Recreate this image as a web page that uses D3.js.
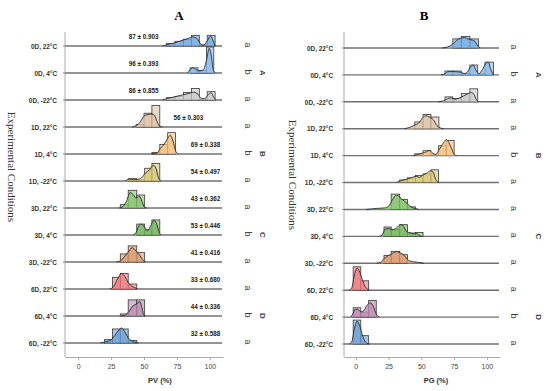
<!DOCTYPE html>
<html>
<head>
<meta charset="utf-8">
<script src="https://cdn.jsdelivr.net/npm/d3@7"></script>
<style>
  html, body { margin: 0; padding: 0; background: #fff; }
  svg { display: block; }
  .row-label { font-family: "Liberation Sans", Arial, sans-serif; font-size: 6.4px; font-weight: bold; fill: #333; }
  .annot { font-family: "Liberation Sans", Arial, sans-serif; font-size: 6.3px; font-weight: bold; fill: #222; }
  .tick text { font-family: "Liberation Sans", Arial, sans-serif; font-size: 7px; fill: #444; }
</style>
</head>
<body>
<div id="chart"></div>
<script>
const conditions = ['0D, 22°C', '0D, 4°C', '0D, -22°C', '1D, 22°C', '1D, 4°C', '1D, -22°C',
  '3D, 22°C', '3D, 4°C', '3D, -22°C', '6D, 22°C', '6D, 4°C', '6D, -22°C'];
const palette = ['#74abe2', '#8ab9e8', '#c9c9c9', '#dcc3a6', '#f5c27c', '#d8c774',
  '#85c46c', '#76b85e', '#d9996e', '#ef7b7e', '#b98bad', '#6a9fd6'];
const groups = ['A', 'B', 'C', 'D'];
const xTicks = [0, 25, 50, 75, 100];

// PV panel: histogram bins [from, to, height] and density points [x, height]
const pvHist = [
  [[67, 73.5, 0.09], [73.5, 80, 0.18], [80, 86, 0.26], [86, 92, 0.41], [92, 98, 0.04], [98, 104, 0.41]],
  [[85, 91, 0.2], [91, 97.5, 0.1], [97.5, 103, 1.0]],
  [[67, 73.5, 0.09], [73.5, 80, 0.14], [80, 86, 0.29], [86, 92, 0.44], [92, 98, 0.03], [98, 104, 0.32]],
  [[44, 50, 0.1], [50, 56, 0.53], [56, 62, 0.83]],
  [[56, 62, 0.06], [62, 68, 0.37], [68, 74, 0.82]],
  [[38, 44.5, 0.09], [44.5, 50.5, 0.04], [50.5, 56, 0.49], [56, 62, 0.67]],
  [[32, 38, 0.13], [38, 44.5, 0.68], [44.5, 50.5, 0.5]],
  [[44.5, 50.5, 0.42], [50.5, 56, 0.2], [56, 62, 0.58]],
  [[32, 38, 0.31], [38, 44.5, 0.62], [44.5, 50.5, 0.36]],
  [[26, 32, 0.45], [32, 38, 0.6], [38, 44.5, 0.19]],
  [[32, 38, 0.08], [38, 44.5, 0.62], [44.5, 50.5, 0.62]],
  [[20, 26, 0.13], [26, 32, 0.54], [32, 38, 0.54], [38, 44.5, 0.1]]
];
const pvDensity = [
  [[64, 0], [68, 0.06], [73, 0.12], [78, 0.2], [83, 0.28], [87, 0.35], [90, 0.3], [93, 0.08], [95, 0.02], [98, 0.2], [100.5, 0.38], [102.5, 0.2], [104, 0]],
  [[83, 0], [85, 0.12], [87, 0.2], [89.5, 0.13], [92, 0.08], [95, 0.12], [97.5, 0.5], [99.5, 0.95], [101, 0.7], [102.5, 0.15], [104, 0]],
  [[64, 0], [68, 0.06], [73, 0.12], [78, 0.18], [83, 0.24], [88, 0.3], [91, 0.22], [93.5, 0.06], [96, 0.05], [99, 0.22], [101, 0.28], [103, 0.1], [104.5, 0]],
  [[41, 0], [44, 0.05], [47, 0.18], [50, 0.42], [53, 0.48], [56, 0.5], [58, 0.45], [60, 0.2], [62, 0.02], [64, 0]],
  [[56, 0], [60, 0.04], [62.5, 0.22], [65, 0.35], [68, 0.6], [70, 0.72], [72, 0.5], [74, 0.12], [76, 0]],
  [[36, 0], [39, 0.07], [42, 0.05], [45, 0.06], [48, 0.12], [51, 0.3], [54, 0.42], [57, 0.6], [59, 0.5], [61, 0.12], [63, 0]],
  [[31, 0], [34, 0.06], [37, 0.3], [39.5, 0.6], [42, 0.5], [44, 0.38], [46.5, 0.45], [48.5, 0.25], [50.5, 0.02], [52, 0]],
  [[42, 0], [44, 0.1], [46, 0.35], [48, 0.42], [50.5, 0.3], [52.5, 0.16], [55, 0.35], [57.5, 0.56], [59.5, 0.45], [61.5, 0.1], [63, 0]],
  [[29, 0], [32, 0.04], [35, 0.2], [38, 0.38], [41, 0.55], [44, 0.42], [47, 0.24], [49.5, 0.05], [51, 0]],
  [[24, 0], [27, 0.1], [30, 0.4], [33, 0.6], [35.5, 0.48], [38, 0.25], [41, 0.1], [43, 0.05], [45, 0]],
  [[33, 0], [36, 0.05], [39, 0.2], [41.5, 0.38], [44, 0.45], [47, 0.55], [48.5, 0.3], [50, 0.02], [51, 0]],
  [[17, 0], [21, 0.05], [25, 0.12], [28, 0.3], [31, 0.5], [33, 0.58], [35.5, 0.42], [38, 0.2], [41, 0.07], [44, 0.02], [46, 0]]
];
const pvMeans = ['87 ± 0.903', '96 ± 0.393', '86 ± 0.855', '56 ± 0.303', '69 ± 0.338', '54 ± 0.497',
  '43 ± 0.362', '53 ± 0.446', '41 ± 0.416', '33 ± 0.680', '44 ± 0.336', '32 ± 0.588'];
const pvLetters = ['a', 'b', 'a', 'a', 'b', 'a', 'a', 'b', 'a', 'a', 'b', 'a'];

// PG panel
const pgHist = [
  [[74, 80.5, 0.35], [80.5, 87, 0.44], [87, 93.5, 0.35]],
  [[68, 74, 0.15], [74, 80.5, 0.15], [80.5, 87, 0.06], [87, 93, 0.38], [93, 98.5, 0.04], [98.5, 105, 0.49]],
  [[68, 74, 0.19], [74, 80.5, 0.13], [80.5, 87, 0.32], [87, 93, 0.5]],
  [[45, 51.3, 0.26], [51.3, 57.3, 0.55], [57.3, 63.4, 0.45]],
  [[45, 51.3, 0.07], [51.3, 57.3, 0.19], [57.3, 63, 0.03], [63, 69, 0.38], [69, 75, 0.58]],
  [[33.5, 39.5, 0.1], [39.5, 45.5, 0.18], [45.5, 51.3, 0.27], [51.3, 57.3, 0.33], [57.3, 63, 0.49]],
  [[27, 33.5, 0.59], [33.5, 39.5, 0.38], [39.5, 45.5, 0.1]],
  [[21.5, 27, 0.36], [27, 33.5, 0.26], [33.5, 39.5, 0.45], [39.5, 45.5, 0.13], [45.5, 51.3, 0.15]],
  [[21.5, 27, 0.3], [27, 33.5, 0.45], [33.5, 39.5, 0.33]],
  [[-2, 3.8, 0.9], [3.8, 9.8, 0.36]],
  [[-2, 3.8, 0.36], [3.8, 9.8, 0.19], [9.8, 15.6, 0.64]],
  [[-2, 3.8, 0.92], [3.8, 9.8, 0.32]]
];
const pgDensity = [
  [[66, 0], [70, 0.04], [74, 0.15], [77, 0.3], [80, 0.38], [83, 0.4], [86, 0.34], [89, 0.3], [91, 0.25], [93, 0.08], [95, 0]],
  [[65, 0], [68, 0.04], [70, 0.12], [73, 0.13], [77, 0.12], [80, 0.1], [83, 0.05], [85, 0.1], [87.5, 0.3], [89.5, 0.38], [91.5, 0.2], [94, 0.05], [96.5, 0.2], [99, 0.42], [101, 0.5], [103, 0.2], [105, 0]],
  [[63, 0], [67, 0.04], [70, 0.12], [72.5, 0.15], [75.5, 0.1], [78.5, 0.14], [82, 0.22], [85, 0.3], [88, 0.36], [90, 0.3], [92, 0.08], [94, 0]],
  [[37, 0], [41, 0.05], [45, 0.14], [48, 0.22], [51, 0.42], [53.5, 0.5], [56, 0.45], [59, 0.35], [62, 0.12], [65, 0.02], [67, 0]],
  [[44, 0], [48, 0.05], [51, 0.1], [54, 0.15], [56, 0.2], [58.5, 0.1], [61, 0.05], [63, 0.18], [65, 0.35], [67, 0.5], [69, 0.62], [71, 0.5], [73, 0.28], [75, 0.05], [77, 0]],
  [[31, 0], [34, 0.06], [38, 0.12], [42, 0.18], [46, 0.24], [48.5, 0.2], [51, 0.28], [54, 0.36], [57, 0.45], [59, 0.4], [61, 0.12], [63, 0]],
  [[8, 0], [12, 0.02], [16, 0.04], [22, 0.06], [25, 0.12], [28, 0.38], [31, 0.55], [33, 0.5], [36, 0.36], [39, 0.24], [42, 0.1], [45, 0.04], [48, 0]],
  [[18, 0], [20, 0.05], [22.5, 0.28], [25, 0.3], [28, 0.26], [31, 0.32], [34, 0.45], [36, 0.42], [38.5, 0.2], [41, 0.14], [44, 0.1], [46, 0.12], [48.5, 0.03], [50, 0]],
  [[16, 0], [19, 0.04], [22, 0.2], [25, 0.3], [28, 0.38], [31, 0.45], [34, 0.4], [37, 0.3], [40, 0.12], [44, 0.06], [48, 0.03], [52, 0]],
  [[-5, 0], [-3, 0.1], [-1, 0.6], [1, 0.85], [3, 0.7], [5, 0.4], [7, 0.15], [9, 0.03], [10.5, 0]],
  [[-4, 0], [-2.5, 0.1], [-0.5, 0.3], [1.5, 0.3], [4, 0.2], [6, 0.25], [8.5, 0.45], [11, 0.55], [13.5, 0.4], [15.5, 0.12], [17, 0.03], [18, 0]],
  [[-5, 0], [-3, 0.1], [-1, 0.6], [1, 0.88], [3, 0.7], [5, 0.35], [7, 0.1], [9, 0.02], [10.5, 0]]
];
const pgLetters = ['a', 'b', 'a', 'a', 'b', 'a', 'a', 'a', 'a', 'a', 'b', 'a'];

const W = 550, H = 391;
const svg = d3.select('#chart').append('svg').attr('width', W).attr('height', H);

const h = d3.scaleLinear().domain([0, 1]).range([0, 26]);

function drawPanel(opt) {
  const x = d3.scaleLinear().domain(opt.domain).range(opt.xRange);
  const y = d3.scalePoint().domain(conditions).range(opt.yRange);
  const g = svg.append('g');
  const [x0, x1] = opt.xRange;

  // title
  g.append('text').attr('x', opt.titleX).attr('y', 20)
    .attr('text-anchor', 'middle')
    .style('font-family', '"Liberation Serif", "Times New Roman", serif')
    .style('font-weight', 'bold').style('font-size', '13px')
    .text(opt.title);

  // y axis line
  g.append('line').attr('x1', x0).attr('x2', x0).attr('y1', 32).attr('y2', 357)
    .attr('stroke', '#aaa').attr('stroke-width', 1);

  // x axis
  const xa = g.append('g').attr('transform', 'translate(0,357)')
    .call(d3.axisBottom(x).tickValues(xTicks).tickSize(3).tickPadding(4).tickSizeOuter(0));
  xa.select('.domain').attr('stroke', '#aaa');
  xa.selectAll('.tick line').attr('stroke', '#aaa');

  g.append('text').attr('x', opt.xTitleX).attr('y', 383)
    .attr('text-anchor', 'middle')
    .style('font-family', '"Liberation Sans", Arial, sans-serif')
    .style('font-size', '7.5px').style('font-weight', 'bold').style('fill', '#333')
    .text(opt.xTitle);

  // vertical axis title
  g.append('text')
    .attr('transform', `translate(${opt.yTitleX},${opt.yTitleY}) rotate(90)`)
    .attr('text-anchor', 'middle')
    .style('font-family', '"Liberation Serif", "Times New Roman", serif')
    .style('font-size', '11px').style('fill', '#333')
    .text('Experimental Conditions');

  const area = d3.area().x(d => x(d[0])).y1(d => -h(d[1])).y0(0).curve(d3.curveMonotoneX);
  const line = d3.line().x(d => x(d[0])).y(d => -h(d[1])).curve(d3.curveMonotoneX);

  conditions.forEach((c, i) => {
    const row = g.append('g').attr('transform', `translate(0,${y(c)})`);
    const col = palette[i];

    // baseline
    row.append('line').attr('x1', x0).attr('x2', x1 - 1).attr('y1', 0).attr('y2', 0)
      .attr('stroke', '#707070').attr('stroke-width', 1.4);
    row.append('line').attr('x1', x0 - 2).attr('x2', x0).attr('stroke', '#888');

    // histogram
    row.selectAll('rect').data(opt.hist[i]).enter().append('rect')
      .attr('x', d => x(d[0]))
      .attr('width', d => x(d[1]) - x(d[0]))
      .attr('y', d => -h(d[2]))
      .attr('height', d => h(d[2]))
      .attr('fill', col).attr('fill-opacity', 0.6)
      .attr('stroke', '#3a3a3a').attr('stroke-width', 0.8);

    // density
    row.append('path').datum(opt.dens[i]).attr('d', area)
      .attr('fill', col).attr('fill-opacity', 0.75);
    row.append('path').datum(opt.dens[i]).attr('d', line)
      .attr('fill', 'none').attr('stroke', '#2b2b2b').attr('stroke-width', 0.9);

    // row label
    g.append('text').attr('class', 'row-label')
      .attr('x', opt.labelX).attr('y', y(c) + 1)
      .attr('text-anchor', 'end').attr('dominant-baseline', 'middle')
      .text(c);

    // significance letter
    g.append('text')
      .attr('transform', `translate(${opt.letterX},${y(c) - 1}) rotate(90)`)
      .attr('text-anchor', 'middle').attr('dominant-baseline', 'middle')
      .style('font-family', '"Liberation Sans", Arial, sans-serif')
      .style('font-size', '9px').style('fill', '#444')
      .text(opt.letters[i]);
  });

  // group letters beside the middle row of each day
  groups.forEach((gr, k) => {
    g.append('text')
      .attr('transform', `translate(${opt.groupX},${y(conditions[k * 3 + 1])}) rotate(90)`)
      .attr('text-anchor', 'middle').attr('dominant-baseline', 'middle')
      .style('font-family', '"Liberation Sans", Arial, sans-serif')
      .style('font-size', '8px').style('font-weight', 'bold').style('fill', '#444')
      .text(gr);
  });

  return { x, y, g };
}

const pv = drawPanel({
  title: 'A', titleX: 179, domain: [-10, 110], xRange: [65, 223], yRange: [46, 343],
  hist: pvHist, dens: pvDensity, letters: pvLetters, labelX: 57,
  letterX: 247, groupX: 262, xTitle: 'PV (%)', xTitleX: 160, yTitleX: 8, yTitleY: 167
});

// mean ± sd annotations on the PV panel
pvMeans.forEach((m, i) => {
  const endAt = i < 3 ? 61 : (i === 3 ? 95 : 108);
  pv.g.append('text').attr('class', 'annot')
    .attr('x', pv.x(endAt)).attr('y', pv.y(conditions[i]) - 9)
    .attr('text-anchor', 'end').attr('dominant-baseline', 'middle')
    .text(m);
});

drawPanel({
  title: 'B', titleX: 424, domain: [-9, 110], xRange: [344, 500], yRange: [48, 344],
  hist: pgHist, dens: pgDensity, letters: pgLetters, labelX: 333,
  letterX: 513, groupX: 538, xTitle: 'PG (%)', xTitleX: 436, yTitleX: 289, yTitleY: 175
});
</script>
</body>
</html>
